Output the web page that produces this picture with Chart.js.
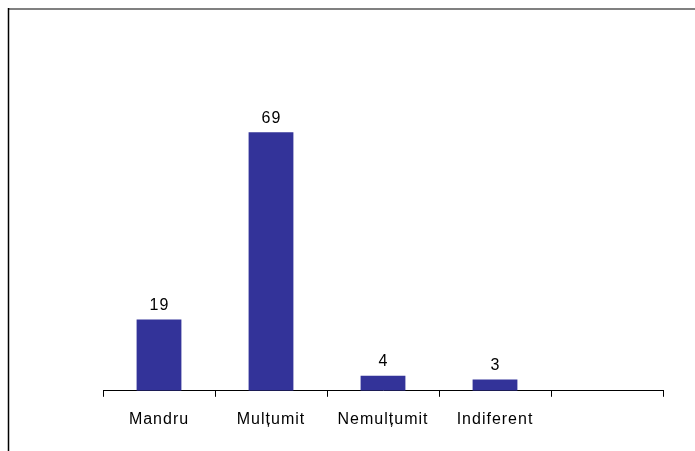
<!DOCTYPE html>
<html>
<head>
<meta charset="utf-8">
<script src="https://cdn.jsdelivr.net/npm/chart.js@4/dist/chart.umd.min.js"></script>
<style>
html,body{margin:0;padding:0;background:#fff;}
#wrap{position:relative;width:695px;height:451px;}
</style>
</head>
<body>
<div id="wrap"><canvas id="c" width="695" height="451"></canvas></div>
<script>
const categories = ['Mandru', 'Mulțumit', 'Nemulțumit', 'Indiferent', ''];
const values = [19, 69, 4, 3, null];

const framePlugin = {
  id: 'frame',
  beforeDraw(chart) {
    const ctx = chart.ctx;
    ctx.save();
    ctx.fillStyle = '#ffffff';
    ctx.fillRect(0, 0, chart.width, chart.height);
    ctx.strokeStyle = '#808080';
    ctx.lineWidth = 2;
    ctx.beginPath();
    ctx.moveTo(8, 9);
    ctx.lineTo(695, 9);
    ctx.stroke();
    ctx.strokeStyle = '#000000';
    ctx.lineWidth = 1.5;
    ctx.beginPath();
    ctx.moveTo(8.5, 8);
    ctx.lineTo(8.5, 451);
    ctx.stroke();
    ctx.restore();
    try { ctx.letterSpacing = '1px'; } catch (e) {}
  }
};

const valueLabels = {
  id: 'valueLabels',
  afterDatasetsDraw(chart) {
    const ctx = chart.ctx;
    const meta = chart.getDatasetMeta(0);
    ctx.save();
    try { ctx.letterSpacing = '1px'; } catch (e) {}
    ctx.font = '16px "Liberation Sans", Arial, sans-serif';
    ctx.fillStyle = '#000';
    ctx.textAlign = 'center';
    ctx.textBaseline = 'middle';
    meta.data.forEach((bar, i) => {
      const v = values[i];
      if (v === null || v === undefined) return;
      ctx.fillText(String(v), bar.x + 0.5, bar.y - 14);
    });
    ctx.restore();
  }
};

new Chart(document.getElementById('c'), {
  type: 'bar',
  data: {
    labels: categories,
    datasets: [{
      data: values,
      backgroundColor: '#333399',
      borderWidth: 0,
      categoryPercentage: 1,
      barPercentage: 0.40
    }]
  },
  options: {
    responsive: false,
    animation: false,
    devicePixelRatio: 1,
    layout: { padding: { left: 103, right: 32, top: 91, bottom: 9 } },
    plugins: { legend: { display: false }, tooltip: { enabled: false } },
    scales: {
      x: {
        grid: { display: true, drawOnChartArea: false, drawTicks: true, tickLength: 6, color: '#000', offset: true },
        border: { display: true, color: '#000', width: 1 },
        ticks: { color: '#000', padding: 13, maxRotation: 0, autoSkip: false,
                 font: { family: '"Liberation Sans", Arial, sans-serif', size: 16 } }
      },
      y: { display: false, min: 0, max: 80 }
    }
  },
  plugins: [framePlugin, valueLabels]
});
</script>
</body>
</html>
